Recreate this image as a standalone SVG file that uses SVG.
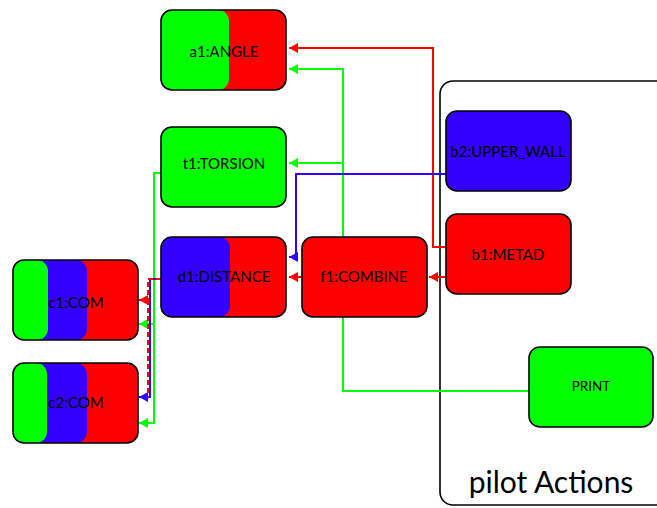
<svg xmlns="http://www.w3.org/2000/svg" width="657" height="508" viewBox="0 0 657 508">
<style>
.lbl{font-family:Lato,"Open Sans","Liberation Sans",sans-serif;font-size:15px;fill:#000;text-anchor:middle;dominant-baseline:central}
.bd{fill:none;stroke:#000;stroke-width:1.6}
.g{fill:#00ff00}.r{fill:#ff0000}.b{fill:#3300ff}
.c{fill:none;stroke-width:2}
.cg{stroke:#00ff00}.cr{stroke:#ff0000}.cb{stroke:#3300ff}
</style>
<defs>
<marker id="ag" markerUnits="userSpaceOnUse" markerWidth="9" markerHeight="10" refX="9" refY="5" orient="auto"><path d="M0,0 L9,5 L0,10 z" fill="#00ff00"/></marker>
<marker id="ar" markerUnits="userSpaceOnUse" markerWidth="9" markerHeight="10" refX="9" refY="5" orient="auto"><path d="M0,0 L9,5 L0,10 z" fill="#ff0000"/></marker>
<marker id="ab" markerUnits="userSpaceOnUse" markerWidth="9" markerHeight="10" refX="9" refY="5" orient="auto"><path d="M0,0 L9,5 L0,10 z" fill="#3300ff"/></marker>
</defs>
<rect width="657" height="508" fill="#fff"/>
<g id="pilot">
<rect x="440" y="81" width="240" height="424" rx="13" class="bd"/>
<text x="551" y="481" style="font-family:Lato,'Open Sans','Liberation Sans',sans-serif;font-size:30px;text-anchor:middle;dominant-baseline:central">pilot Actions</text>
</g>
<g id="connectors">
<path class="c cr" d="M446,247 H433 V48 H289" marker-end="url(#ar)"/>
<path class="c cg" d="M529,391 H343 V69 H289" marker-end="url(#ag)"/>
<path class="c cg" d="M343,163 H289" marker-end="url(#ag)"/>
<path class="c cb" d="M446,174 H296 V257 H289" marker-end="url(#ab)"/>
<path class="c cr" d="M446,277 H429" marker-end="url(#ar)"/>
<path class="c cr" d="M302,277 H289" marker-end="url(#ar)"/>
<path class="c cg" d="M161,173 H154 V324 H139" marker-end="url(#ag)"/>
<path class="c cg" d="M154,324 V423 H139" marker-end="url(#ag)"/>
<path class="c cb" d="M161,279 H150 V397 H139" marker-end="url(#ab)"/>
<path class="c cr" d="M161,279 H148 V300 H139" stroke-dasharray="5,3" marker-end="url(#ar)"/>
<path class="c cr" d="M148,300 V394" stroke-dasharray="5,3"/>
</g>
<g id="a1">
<rect x="161" y="10" width="125" height="80" rx="11" class="r"/>
<rect x="161" y="10" width="68" height="80" rx="11" class="g"/>
<rect x="161" y="10" width="125" height="80" rx="11" class="bd"/>
<text x="224" y="51" class="lbl">a1:ANGLE</text>
</g>
<g id="t1">
<rect x="161" y="127" width="125" height="80" rx="11" class="g"/>
<rect x="161" y="127" width="125" height="80" rx="11" class="bd"/>
<text x="224" y="163" class="lbl">t1:TORSION</text>
</g>
<g id="d1">
<rect x="161" y="237" width="125" height="80" rx="11" class="r"/>
<rect x="161" y="237" width="69" height="80" rx="11" class="b"/>
<rect x="161" y="237" width="125" height="80" rx="11" class="bd"/>
<text x="224" y="276" class="lbl">d1:DISTANCE</text>
</g>
<g id="f1">
<rect x="302" y="237" width="125" height="80" rx="11" class="r"/>
<rect x="302" y="237" width="125" height="80" rx="11" class="bd"/>
<text x="364" y="276" class="lbl">f1:COMBINE</text>
</g>
<g id="c1">
<rect x="13" y="260" width="125" height="80" rx="11" class="r"/>
<rect x="13" y="260" width="74" height="80" rx="11" class="b"/>
<rect x="13" y="260" width="35" height="80" rx="11" class="g"/>
<rect x="13" y="260" width="125" height="80" rx="11" class="bd" stroke-width="2"/>
<text x="76" y="302" class="lbl">c1:COM</text>
</g>
<g id="c2">
<rect x="13" y="363" width="125" height="80" rx="11" class="r"/>
<rect x="13" y="363" width="74" height="80" rx="11" class="b"/>
<rect x="13" y="363" width="34" height="80" rx="11" class="g"/>
<rect x="13" y="363" width="125" height="80" rx="11" class="bd" stroke-width="2"/>
<text x="76" y="402" class="lbl">c2:COM</text>
</g>
<g id="b2">
<rect x="446" y="111" width="125" height="80" rx="11" class="b"/>
<rect x="446" y="111" width="125" height="80" rx="11" class="bd"/>
<text x="508" y="151" class="lbl">b2:UPPER_WALL</text>
</g>
<g id="b1">
<rect x="446" y="214" width="125" height="80" rx="11" class="r"/>
<rect x="446" y="214" width="125" height="80" rx="11" class="bd"/>
<text x="508" y="254" class="lbl">b1:METAD</text>
</g>
<g id="print">
<rect x="529" y="347" width="124" height="80" rx="11" class="g"/>
<rect x="529" y="347" width="124" height="80" rx="11" class="bd"/>
<text x="591" y="386" class="lbl" style="font-size:13.5px">PRINT</text>
</g>
</svg>
